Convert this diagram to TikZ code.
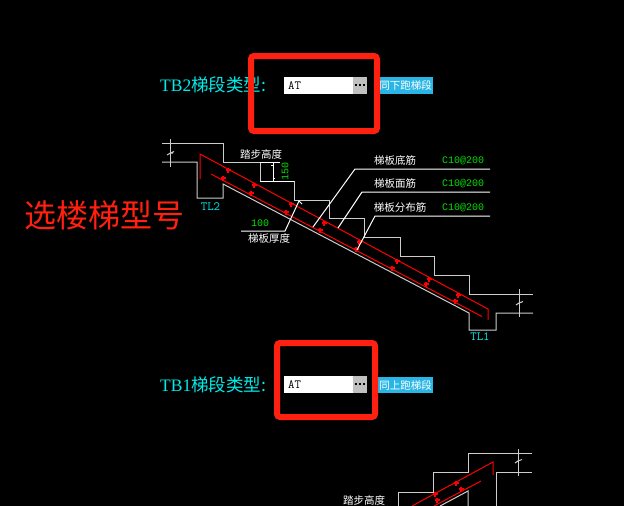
\documentclass[tikz,border=0pt]{standalone}
\usepackage{fontspec}
\setmainfont{Noto Sans CJK SC}
\newfontfamily\latinserif{Liberation Serif}
\newfontfamily\latinmono{Liberation Mono}
\usetikzlibrary{calc,positioning}
\definecolor{markred}{RGB}{255,32,16}
\definecolor{cadred}{RGB}{255,0,0}
\definecolor{cadcyan}{RGB}{0,235,235}
\definecolor{cadgray}{RGB}{205,205,205}
\definecolor{barblue}{RGB}{41,182,230}
\definecolor{btngray}{RGB}{192,192,192}
\definecolor{cadgreen}{RGB}{0,225,0}

\begin{document}
\begin{tikzpicture}[x=1pt,y=-1pt,
            outline/.style={draw=cadgray, line width=1pt},
            rebar/.style={draw=cadred, line width=1pt},
            leader/.style={draw=white, line width=1pt},
            callout/.style={draw=markred, line width=6pt, rounded corners=3pt},
            tag/.style={
            inner sep=0,
            text=white,
            font=\fontsize{10.5}{12}\selectfont},
            value/.style={
            inner sep=0,
            text=cadgreen,
            font=\latinmono\fontsize{10}{12}\selectfont},
            beam/.style={
            inner sep=0,
            text=cadcyan,
            font=\ttfamily\fontsize{12.5}{14}\selectfont},
            title/.style={
            inner sep=0,
            anchor=west,
            text=cadcyan,
            font=\fontsize{17.5}{18}\selectfont},
            inputbox/.style={
            fill=white,
            minimum width=83,
            minimum height=17,
            inner sep=0,
            anchor=north west},
            dotbtn/.style={
            fill=btngray,
            minimum width=14,
            minimum height=17,
            inner sep=0,
            anchor=north east},
            btndot/.style={fill=black, minimum size=2, inner sep=0},
            runbtn/.style={
            fill=barblue,
            minimum width=55,
            inner sep=0,
            anchor=north west,
            text=white,
            font=\fontsize{10.5}{12}\selectfont},
            typetext/.style={
            anchor=west,
            inner sep=0,
            font=\ttfamily\fontsize{12.5}{14}\selectfont}]

    \fill[black] (0,0) rectangle (624,506);
    \useasboundingbox (0,0) rectangle (624,506);
    \clip (0,0) rectangle (624,506);

    % upper flight
    \node[title] (title2) at (160,85) {{\latinserif TB2}梯段类型:};
    \node[inputbox] (input2) at (284,77) {};
    \node[dotbtn] (dots2) at (input2.north east) {};
    \foreach \i in {-4,0,4}
        \node[btndot] (dotb\i) at ($(dots2.center)+(\i,-1)$) {};
    \node[typetext] (type2) at (288,86) {AT};
    \node[runbtn, minimum height=17] (run2) at (378,77) {同下跑梯段};
    \draw[callout] (251,56) rectangle (377,131);

    \draw[outline] (162,143) -- (223,143) -- (223,162) -- (260,162) -- (260,181) -- (294,181) -- (294,200)
        -- (329,200) -- (329,218) -- (364,218) -- (364,237) -- (400,237) -- (400,256) -- (434,256)
        -- (434,275) -- (469,275) -- (469,294) -- (533,294);
    \draw[outline] (533,313) -- (496,313) -- (496,330) -- (469,330) -- (469,313) -- (223,184)
        -- (223,198) -- (197,198) -- (197,162) -- (162,162);
    \draw[outline] (170.5,139) -- (170.5,167);
    \draw[outline] (167,155) -- (170.5,153) -- (173,153) (170.5,153) -- (174,151.5);
    \draw[outline] (519,289) -- (519,317);
    \draw[outline] (516,305) -- (519,303) -- (522,302) (519,303) -- (523,301.5);

    \draw[rebar] (200,179) -- (200,154) -- (488,309) -- (488,320);
    \draw[rebar] (211,174) -- (482,316.5);
    \foreach \x/\y in {228/170,254/185,291/204,324/223,359/242,397/261,429/279,458/295,
                       223/178,251/193,286/212,320/230,356/249,392/268,426/284,455/301}
    {
        \draw[cadred, line width=1.1pt] (\x-2.5,\y) -- (\x+2.5,\y) (\x,\y-2.5) -- (\x,\y+2.5);
    }

    \draw[leader] (260,181) -- (294,181);
    \draw[leader] (260,162) -- (280,162);
    \draw[leader] (273,162) -- (273,181);
    \draw[leader] (271,165) -- (273,165) (273,178) -- (275,178);
    \draw[leader] (241,231) -- (285,231) -- (299,201) -- (302,204);
    \draw[leader] (490,169) -- (355,169) -- (313,227);
    \draw[leader] (490,192) -- (362,192) -- (338,228);
    \draw[leader] (490,216) -- (375,216) -- (357,250);

    \node[tag] (stepheight) at (261,154) {踏步高度};
    \node[value, rotate=90] (rise) at (285,171) {150};
    \node[value] (thick) at (260,223) {100};
    \node[tag] (thicktag) at (269,238) {梯板厚度};
    \node[tag] (bottomtag) at (395,161) {梯板底筋};
    \node[tag] (toptag) at (395,184) {梯板面筋};
    \node[tag] (disttag) at (400,208) {梯板分布筋};
    \node[value] (bottomval) at (463,161) {C10@200};
    \node[value] (topval) at (463,184) {C10@200};
    \node[value] (distval) at (463,208) {C10@200};
    \node[beam] (tl2) at (210.5,207) {TL2};
    \node[beam] (tl1) at (480,337) {TL1};

    \node[anchor=west, inner sep=0, text=markred, font=\fontsize{32}{34}\selectfont] (caption) at (24,215) {选楼梯型号};

    % lower flight
    \node[title] (title1) at (160,385) {{\latinserif TB1}梯段类型:};
    \node[inputbox] (input1) at (284,376) {};
    \node[dotbtn] (dots1) at (input1.north east) {};
    \foreach \i in {-4,0,4}
        \node[btndot] (dota\i) at ($(dots1.center)+(\i,-1)$) {};
    \node[typetext] (type1) at (288,385) {AT};
    \node[runbtn, minimum height=16] (run1) at (378,377) {同上跑梯段};
    \draw[callout] (277,343) rectangle (375,417);

    \draw[outline] (532,453) -- (468,453) -- (468,472) -- (433,472) -- (433,492) -- (398,492) -- (398,506);
    \draw[outline] (532,472) -- (496,472) -- (496,506);
    \draw[outline] (468,506) -- (468,491) -- (440,506);
    \draw[outline] (518,449) -- (518,476);
    \draw[outline] (515,463) -- (518,461) -- (522,459.5);
    \draw[rebar] (412,506) -- (493,462) -- (493,475);
    \draw[rebar] (434,506) -- (481,481);
    \foreach \x/\y in {435/494,456/483,461/489,437/500}
    {
        \draw[cadred, line width=1.1pt] (\x-2.5,\y) -- (\x+2.5,\y) (\x,\y-2.5) -- (\x,\y+2.5);
    }
    \node[tag] (stepheightb) at (364,500) {踏步高度};
\end{tikzpicture}
\end{document}
